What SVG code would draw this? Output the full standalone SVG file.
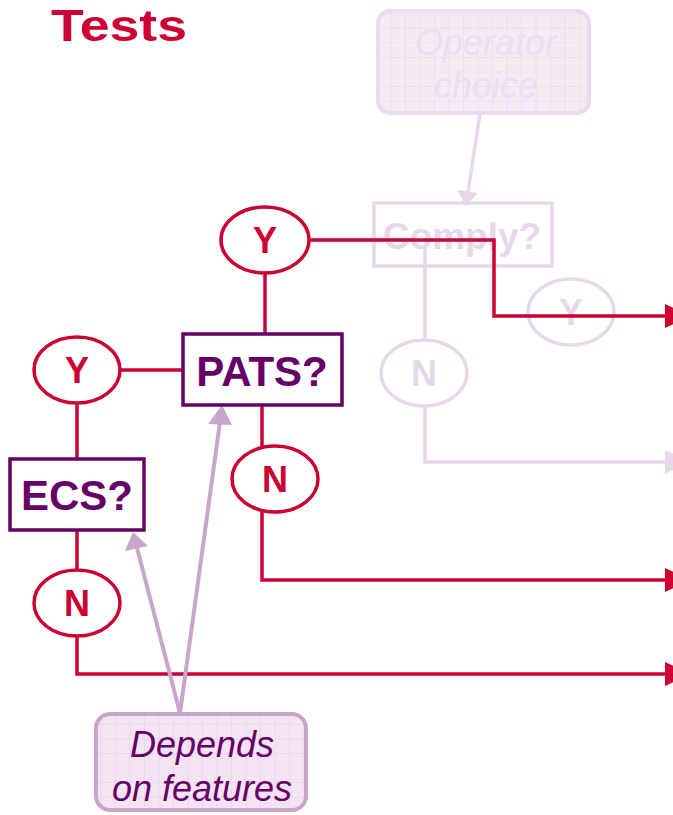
<svg xmlns="http://www.w3.org/2000/svg" width="673" height="815" viewBox="0 0 673 815">
<defs>
<pattern id="gridA" width="14.5" height="14.5" patternUnits="userSpaceOnUse">
<rect width="14.5" height="14.5" fill="#f4eaf4"/>
<path d="M14.5 0V14.5M0 14.5H14.5" stroke="#e4d4e6" stroke-width="1" fill="none"/>
</pattern>
<pattern id="gridB" width="14.5" height="14.5" patternUnits="userSpaceOnUse">
<rect width="14.5" height="14.5" fill="#f3e4f3"/>
<path d="M14.5 0V14.5M0 14.5H14.5" stroke="#e2cde4" stroke-width="1" fill="none"/>
</pattern>
</defs>
<style>
.red{stroke:#cc0033;stroke-width:3.5;fill:none}
.redo{stroke:#cc0033;stroke-width:3.5;fill:#ffffff}
.faint{stroke:#e6d8ea;stroke-width:3.5;fill:none}
.fainto{stroke:#e6d8ea;stroke-width:3.5;fill:#ffffff}
.box{stroke:#660066;stroke-width:3.5;fill:#ffffff}
.lbl{font-family:"Liberation Sans",Arial,sans-serif;font-weight:bold;text-anchor:middle}
.yn{font-size:36px;fill:#cc0033}
.ynf{font-size:36px;fill:#e6d8ea}
.q{font-size:42px;fill:#660066}
.it{font-family:"Liberation Sans",Arial,sans-serif;font-style:italic;text-anchor:middle;font-size:36px}
.lp{stroke:#c9a5cc;stroke-width:4;fill:none}
</style>
<text x="119" y="41" font-family="'Liberation Sans',Arial,sans-serif" font-weight="bold" font-size="45" fill="#cc0033" text-anchor="middle" textLength="136" lengthAdjust="spacingAndGlyphs">Tests</text>
<g id="operator">
<rect x="378" y="11" width="211" height="102" rx="12" fill="url(#gridA)" stroke="#eadcee" stroke-width="4"/>
<text class="it" x="486" y="55" fill="#ecdcee">Operator</text>
<text class="it" x="486" y="98" fill="#ecdcee">choice</text>
</g>
<g id="comply">
<rect class="faint" x="374" y="203" width="178" height="63"/>
<text class="lbl" x="462" y="249" font-size="37" fill="#e6d8ea">Comply?</text>
</g>
<g id="comply-y">
<ellipse class="faint" cx="571" cy="312" rx="43" ry="33"/>
<text class="lbl ynf" x="571" y="325">Y</text>
</g>
<g id="comply-n">
<ellipse class="fainto" cx="424" cy="373" rx="43" ry="33"/>
<text class="lbl ynf" x="424" y="386">N</text>
</g>
<g id="connectors">
<line class="faint" x1="480" y1="113" x2="468" y2="192"/>
<polygon points="457,190 478,193 466,206" fill="#e6d8ea"/>
<polyline class="faint" points="425,245 425,340"/>
<polyline class="faint" points="425,407 425,462 665,462"/>
<polygon points="665,450 665,474 690,462" fill="#e6d8ea"/>
<polyline class="red" points="310,240 494,240 494,316 665,316"/>
<polygon points="665,304 665,328 690,316" fill="#cc0033"/>
<line class="red" x1="265" y1="273" x2="265" y2="333"/>
<line class="red" x1="120" y1="370" x2="182" y2="370"/>
<line class="red" x1="77" y1="403" x2="77" y2="459"/>
<line class="red" x1="77" y1="530" x2="77" y2="570"/>
<polyline class="red" points="77,636 77,674 665,674"/>
<polygon points="665,662 665,686 690,674" fill="#cc0033"/>
<line class="red" x1="262" y1="405" x2="262" y2="446"/>
<polyline class="red" points="262,512 262,580 665,580"/>
<polygon points="665,568 665,592 690,580" fill="#cc0033"/>
<line class="lp" x1="180" y1="713" x2="137" y2="548"/>
<polygon points="133,532 125,551 148,546" fill="#c9a5cc"/>
<line class="lp" x1="180" y1="713" x2="220" y2="422"/>
<polygon points="222,405 208,424 232,425" fill="#c9a5cc"/>
</g>
<g id="pats-y">
<ellipse class="redo" cx="265" cy="240" rx="44" ry="33"/>
<text class="lbl yn" x="265" y="253">Y</text>
</g>
<g id="pats">
<rect class="box" x="183" y="334" width="159" height="71"/>
<text class="lbl q" x="262" y="386">PATS?</text>
</g>
<g id="pats-n">
<ellipse class="redo" cx="275" cy="479" rx="43" ry="33"/>
<text class="lbl yn" x="275" y="492">N</text>
</g>
<g id="ecs-y">
<ellipse class="redo" cx="77" cy="370" rx="43" ry="33"/>
<text class="lbl yn" x="77" y="383">Y</text>
</g>
<g id="ecs">
<rect class="box" x="10" y="459" width="134" height="71"/>
<text class="lbl q" x="77" y="510">ECS?</text>
</g>
<g id="ecs-n">
<ellipse class="redo" cx="77" cy="603" rx="43" ry="33"/>
<text class="lbl yn" x="77" y="616">N</text>
</g>
<g id="depends">
<rect x="96" y="714" width="210" height="96" rx="14" fill="url(#gridB)" stroke="#c9a5cc" stroke-width="4"/>
<text class="it" x="202" y="757" fill="#660066">Depends</text>
<text class="it" x="202" y="801" fill="#660066">on features</text>
</g>
</svg>
